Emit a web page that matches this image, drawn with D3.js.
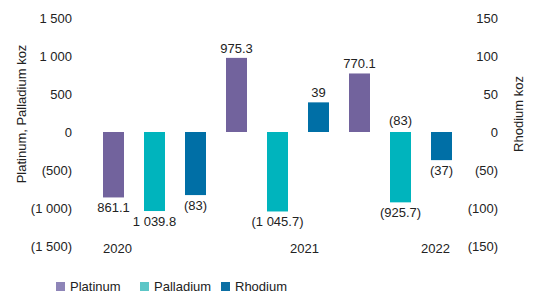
<!DOCTYPE html>
<html>
<head>
<meta charset="utf-8">
<script src="https://cdn.jsdelivr.net/npm/d3@7"></script>
<style>
  html, body { margin: 0; padding: 0; background: #fff; }
  svg { display: block; font-family: "Liberation Sans", Arial, Helvetica, sans-serif; }
  text { fill: #222; font-size: 13px; }
</style>
</head>
<body>
<svg id="chart" width="536" height="293"></svg>
<script>
// ---- data ----
const years = ["2020", "2021", "2022"];
const metals = ["Platinum", "Palladium", "Rhodium"];
const platinum = [-861.1, 975.3, 770.1];
const palladium = [-1039.8, -1045.7, -925.7];
const rhodium = [-83, 39, -37];
const platinumLabels = ["861.1", "975.3", "770.1"];
const palladiumLabels = ["1 039.8", "(1 045.7)", "(925.7)"];
const rhodiumLabels = ["(83)", "39", "(37)"];
const palladiumExtraLabels = ["", "", "(83)"];
const leftTicks = [-1500, -1000, -500, 0, 500, 1000, 1500];
const rightTicks = [-150, -100, -50, 0, 50, 100, 150];

// ---- styles ----
const barColors = { Platinum: "#72639d", Palladium: "#00b4bd", Rhodium: "#006fa6" };
const legendColors = { Platinum: "#8e85b8", Palladium: "#5cc6c7", Rhodium: "#0b6fa4" };

const svg = d3.select("#chart");

const fmt = v => {
  const s = d3.format(",")(Math.abs(v)).replace(/,/g, " ");
  return v < 0 ? "(" + s + ")" : s;
};

// build bar table
const seriesVals = { Platinum: platinum, Palladium: palladium, Rhodium: rhodium };
const seriesLabels = { Platinum: platinumLabels, Palladium: palladiumLabels, Rhodium: rhodiumLabels };
const bars = [];
years.forEach((y, yi) => {
  metals.forEach(m => {
    bars.push({ key: y + "-" + m, year: y, metal: m, value: seriesVals[m][yi], label: seriesLabels[m][yi],
      extra: m === "Palladium" ? palladiumExtraLabels[yi] : "" });
  });
});

const x = d3.scaleBand().domain(bars.map(d => d.key)).range([93, 462]).paddingInner(0.488).paddingOuter(0.244);
const yL = d3.scaleLinear().domain([-1500, 1500]).range([246, 18]);
const yR = d3.scaleLinear().domain([-150, 150]).range([246, 18]);
const yFor = d => d.metal === "Rhodium" ? yR : yL;

// left axis
const gL = svg.append("g").attr("transform", "translate(72,0)")
  .call(d3.axisLeft(yL).tickValues(leftTicks).tickFormat(fmt).tickSize(0).tickPadding(0));
gL.select(".domain").remove();
gL.selectAll("text").attr("font-size", 13).attr("font-family", null).attr("dy", "0.35em").attr("fill", "#222");

// right axis
const gR = svg.append("g").attr("transform", "translate(498,0)")
  .call(d3.axisLeft(yR).tickValues(rightTicks).tickFormat(fmt).tickSize(0).tickPadding(0));
gR.select(".domain").remove();
gR.selectAll("text").attr("font-size", 13).attr("font-family", null).attr("dy", "0.35em").attr("fill", "#222");

// axis titles
svg.append("text").attr("transform", "translate(26,114) rotate(-90)").attr("text-anchor", "middle")
  .text("Platinum, Palladium koz");
svg.append("text").attr("transform", "translate(523,114) rotate(-90)").attr("text-anchor", "middle")
  .text("Rhodium koz");

// bars
svg.append("g").selectAll("rect").data(bars).join("rect")
  .attr("x", d => x(d.key))
  .attr("width", x.bandwidth())
  .attr("y", d => Math.min(yFor(d)(d.value), yFor(d)(0)))
  .attr("height", d => Math.abs(yFor(d)(d.value) - yFor(d)(0)))
  .attr("fill", d => barColors[d.metal]);

// value labels
svg.append("g").selectAll("text").data(bars).join("text")
  .attr("x", d => x(d.key) + x.bandwidth() / 2)
  .attr("y", d => d.value >= 0 ? yFor(d)(d.value) - 5 : yFor(d)(d.value) + 15)
  .attr("text-anchor", "middle")
  .text(d => d.label);

svg.append("g").selectAll("text").data(bars.filter(d => d.extra)).join("text")
  .attr("x", d => x(d.key) + x.bandwidth() / 2)
  .attr("y", yL(0) - 7)
  .attr("text-anchor", "middle")
  .text(d => d.extra);

// year labels
const yearOffsets = [{ key: "2020-Platinum", dx: 4 }, { key: "2021-Rhodium", dx: -14 }, { key: "2022-Rhodium", dx: -6 }];
svg.append("g").selectAll("text").data(years).join("text")
  .attr("x", (d, i) => x(yearOffsets[i].key) + x.bandwidth() / 2 + yearOffsets[i].dx)
  .attr("y", 253)
  .attr("text-anchor", "middle")
  .text(d => d);

// legend
const legendX = [56, 140, 221];
const lg = svg.append("g").selectAll("g").data(metals).join("g")
  .attr("transform", (d, i) => `translate(${legendX[i]},282)`);
lg.append("rect").attr("width", 9).attr("height", 9).attr("fill", d => legendColors[d]);
lg.append("text").attr("x", 14).attr("y", 9).text(d => d);
</script>
</body>
</html>
